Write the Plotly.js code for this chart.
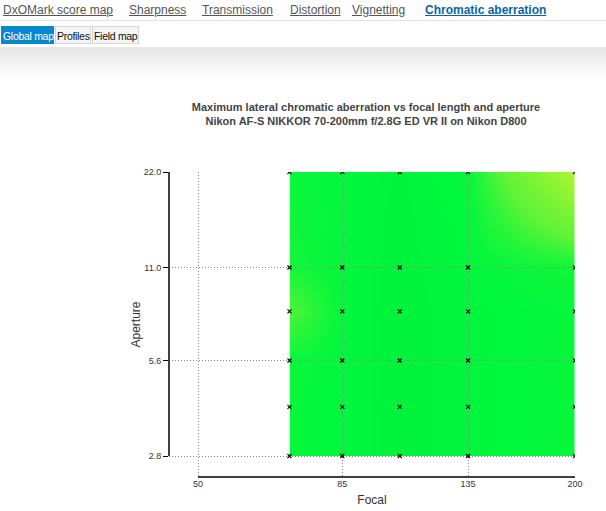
<!DOCTYPE html>
<html><head><meta charset="utf-8">
<script src="https://cdn.plot.ly/plotly-3.0.1.min.js"></script>
<style>
body{margin:0;width:606px;height:511px;overflow:hidden;background:#fff;font-family:"Liberation Sans",Arial,sans-serif;position:relative}
.tab{position:absolute;top:3px;font-size:12px;color:#555;text-decoration:underline;white-space:nowrap}
.tab.active{color:#0a64a4;font-weight:bold}
.rule{position:absolute;left:0;top:20px;width:606px;height:1px;background:#e2e2e2}
.btn{position:absolute;top:26px;height:18px;line-height:18px;font-size:10.5px;letter-spacing:-0.3px;padding:0 1px;border:1px solid #d4d4d4;background:#f4f4f4;color:#111;box-sizing:border-box;white-space:nowrap;text-align:center}
.btn.on{background:#0a87cc;color:#fff;border-color:#0a87cc}
.band{position:absolute;left:0;top:47px;width:606px;height:32px;background:linear-gradient(#e6e6e6,#ffffff)}
#chart{position:absolute;left:0;top:0;width:606px;height:511px}
</style></head>
<body>
<div class="band"></div>
<div id="chart"></div>
<span class="tab" style="left:3px">DxOMark score map</span>
<span class="tab" style="left:129px">Sharpness</span>
<span class="tab" style="left:202px">Transmission</span>
<span class="tab" style="left:290px">Distortion</span>
<span class="tab" style="left:352px">Vignetting</span>
<span class="tab active" style="left:425px">Chromatic aberration</span>
<div class="rule"></div>
<div class="btn on" style="left:1px;width:53px">Global map</div>
<div class="btn" style="left:55px;width:36px">Profiles</div>
<div class="btn" style="left:92px;width:47px">Field map</div>
<script>
// ---- data ----
const focal = [70, 85, 105, 135, 200];
const aperture = [2.8, 4, 5.6, 8, 11, 22];
// relative lateral CA level, rows = aperture, cols = focal
const caValues = [
  [0.12, 0.10, 0.06, 0.09, 0.12],
  [0.12, 0.10, 0.06, 0.09, 0.12],
  [0.13, 0.10, 0.06, 0.09, 0.12],
  [0.36, 0.10, 0.06, 0.09, 0.12],
  [0.17, 0.10, 0.06, 0.10, 0.16],
  [0.13, 0.10, 0.07, 0.12, 1.00]
];
const xTickVals = [50, 85, 135, 200];
const xTickText = ['50', '85', '135', '200'];
const yTickVals = [2.8, 5.6, 11, 22];
const yTickText = ['2.8', '5.6', '11.0', '22.0'];

const lx = v => Math.log10(v);
const X0 = lx(50), X1 = lx(200);
const xr = [X0 - (X1 - X0) * 29 / 377, X1];
const Y0 = lx(2.8), Y1 = lx(22);
const yr = [Y0 - (Y1 - Y0) * 21 / 284, Y1];
const frac = (v, r) => (lx(v) - r[0]) / (r[1] - r[0]);

const fx = focal.map(lx), ay = aperture.map(lx);
const px = [], py = [];
aperture.forEach(a => focal.forEach(f => { px.push(lx(f)); py.push(lx(a)); }));

const font = '"Liberation Sans", Arial, sans-serif';
const traces = [
  {type: 'heatmap', x: fx, y: ay, z: caValues, zsmooth: 'best', xaxis: 'x', yaxis: 'y',
   zmin: 0, zmax: 1, showscale: false, hoverinfo: 'skip',
   colorscale: [[0, 'rgb(0,234,58)'], [0.1, 'rgb(0,247,60)'], [0.4, 'rgb(95,243,55)'], [1, 'rgb(178,245,50)']]},
  {type: 'scatter', mode: 'markers', x: px, y: py, xaxis: 'x2', yaxis: 'y2', hoverinfo: 'skip',
   marker: {symbol: 'x-thin', size: 4, color: '#000', line: {width: 1.1, color: '#000'}}}
];
const grid = {showgrid: true, gridcolor: '#8a8a8a', griddash: '1px,2px', gridwidth: 1, zeroline: false, showline: false};
const layout = {
  width: 606, height: 511,
  margin: {l: 169, r: 31, t: 172, b: 34},
  paper_bgcolor: 'rgba(0,0,0,0)', plot_bgcolor: 'rgba(0,0,0,0)',
  showlegend: false,
  font: {family: font, color: '#333'},
  title: {text: '<b>Maximum lateral chromatic aberration vs focal length and aperture<br>Nikon AF-S NIKKOR 70-200mm f/2.8G ED VR II on Nikon D800</b>',
    font: {size: 11, color: '#444', family: font}, x: 366 / 606, xref: 'container', xanchor: 'center',
    y: 1 - 111 / 511, yref: 'container', yanchor: 'top'},
  xaxis: {domain: [frac(focal[0], xr), 1], range: [lx(focal[0]), lx(focal[focal.length - 1])], visible: false, fixedrange: true},
  yaxis: {domain: [frac(aperture[0], yr), 1], range: [lx(aperture[0]), lx(aperture[aperture.length - 1])], visible: false, fixedrange: true},
  xaxis2: Object.assign({anchor: 'y2', domain: [0, 1], range: xr, tickmode: 'array', tickvals: xTickVals.map(lx), ticktext: xTickText,
    ticks: '', tickfont: {size: 9, color: '#333'}, automargin: false,
    title: {text: 'Focal', font: {size: 12, color: '#333'}, standoff: 7}}, grid),
  yaxis2: Object.assign({anchor: 'x2', domain: [0, 1], range: yr, tickmode: 'array', tickvals: yTickVals.map(lx), ticktext: yTickText,
    ticks: 'outside', ticklen: 5, tickcolor: '#000', tickfont: {size: 9, color: '#333'}, automargin: false,
    title: {text: 'Aperture', font: {size: 12, color: '#333'}, standoff: 0}}, grid),
  shapes: [
    {type: 'line', layer: 'above', xref: 'x2', yref: 'paper', x0: lx(xTickVals[0]), x1: lx(xTickVals[xTickVals.length - 1]), y0: 0, y1: 0, line: {color: '#000', width: 1.5}},
    {type: 'line', layer: 'above', xref: 'paper', yref: 'y2', x0: 0, x1: 0, y0: lx(yTickVals[0]), y1: lx(yTickVals[yTickVals.length - 1]), line: {color: '#000', width: 1.5}}
  ]
};
Plotly.newPlot('chart', traces, layout, {displayModeBar: false, staticPlot: true});
</script>
</body></html>
